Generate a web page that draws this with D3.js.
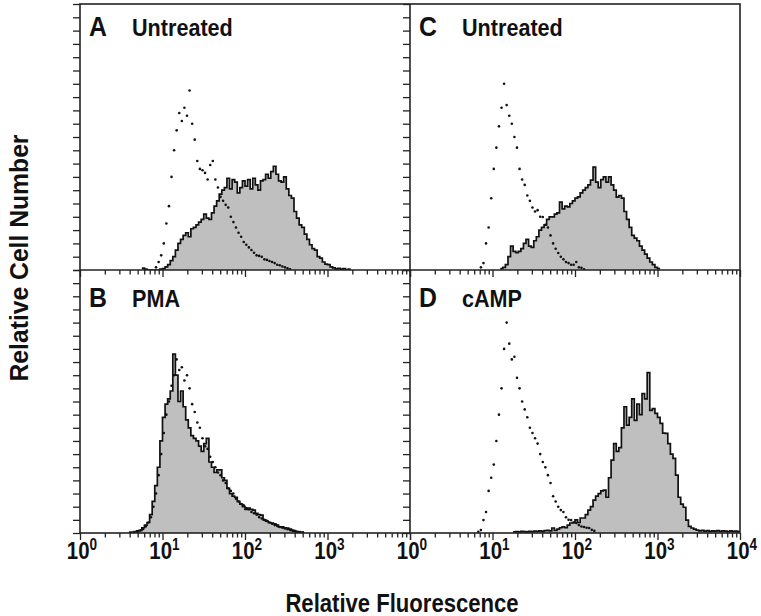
<!DOCTYPE html>
<html><head><meta charset="utf-8">
<script src="https://cdn.jsdelivr.net/npm/d3@7"></script>
<style>
html,body{margin:0;padding:0;background:#fff;}
text{font-family:"Liberation Sans",Arial,Helvetica,sans-serif;font-weight:bold;fill:#111;}
</style></head>
<body><svg id="chart" width="761" height="616"></svg>
<script>
// ---------- data ----------
const binsPerDecade = 32;               // channels per decade of fluorescence
const panelLetters = ["A", "B", "C", "D"];
const panelTitles = ["Untreated", "PMA", "Untreated", "cAMP"];
const tickExponents = [0, 1, 2, 3, 4];
const axisTitleX = "Relative Fluorescence";
const axisTitleY = "Relative Cell Number";

// Panel A – Untreated (stained = filled, control = dotted); values in % of full scale
const stainedAStart = 24;
const stainedA = [0.7,0.3,0,0,0,0,0,0.3,0.5,1.2,2,3.5,5,7.5,10,11.5,13,14,12.5,15.5,16,17,18,19,21,19.5,19,21.5,24,26,28.5,30,31,34.5,30.5,34,33,29,31,33.5,31.5,34,30.5,34.5,32,30,33.5,34,36,34.5,37,39,36,33.5,33,35,30.5,28,27,22,19.5,17,16,13.5,11.5,9.5,8,7.5,5,4.5,3,2.2,2,1.2,0.8,0.4,0.6,0.3,0.5,0,0.3];
const controlAStart = 29;
const controlA = [1,3,5.5,10,17.5,24,35,45,52.5,59,56,61,58,67.5,55,49,41,38,37.5,36.5,34,39.5,41,34,31,27.5,26,24.5,23.5,20,18,16,14,12.5,10.5,9.5,8.5,7.5,6.5,5.5,5.3,5,4,3.8,3.4,3,2.6,2,1.8,1.3,1,0.6,0.3];

// Panel B – PMA
const stainedBStart = 19;
const stainedB = [0.3,0.3,0.5,0.8,1,2,3,4,7,12,18,25,35,44,49,51,54,68,60,50,54,48,43,40,37,36,35,33,31,34,36,27,25,23,24,24,21,20,17,15,14,13.6,12,11,10,9,9.5,9,8.7,7.5,7,6.8,5,4.5,4,3.8,3.5,3,2.3,2.3,2,1.9,1.5,1,0.6,0.4,0.3];
const controlBStart = 22;
const controlB = [0.5,1,1.5,2.5,4,6,10,15,22,30,38,45,50,56,60,66,62,63,58,60,55,49,46,42,40,36,33,32,29,27,25,23,22,20,19,17,16,15,13,12,11,10.5,9.5,9,8,7.5,7,6,5.5,5,4.6,4,3.5,3,2.7,2.3,2,1.7,1.4,1.1,0.9,0.7,0.5,0.4,0.3];

// Panel C – Untreated
const stainedCStart = 35;
const stainedC = [0.5,1,2,5,9,7,6.5,7,8,10,11.5,9,8.5,11,12.5,15,16,17,19,20,20,21,21.5,25.5,23,24,23.7,25,26,27,27.5,29,30,31,32,33.8,38.7,33,31,34,35,33,35,32,30,27.4,28,27,22,19,16,13,12,11,9,7.5,6,4.5,3,2,1,0.5];
const controlCStart = 27;
const controlC = [1,2.6,10,16,27,38,46,54,61,70,62,58,55,50,46,38,34,32,28,26,23.5,22,22.5,20,19.9,17,16,13,10,8,6.4,5,4,3,2.6,2,2,3,1,0.8,0.3];

// Panel D – cAMP
const stainedDStart = 40;
const stainedD = [0.4,0.5,0.4,0.6,0.5,0.4,0.6,0.5,0.7,0.6,0.8,0.6,0.9,1,0.8,1.9,1,1.5,2,2.3,2,3,3.8,4,5,4,5.7,5.7,7,8.7,10,12.5,14,15,16,16.3,13.6,21,27.7,34,31,32.5,40,48,41,44,51,42.8,49,45,53,51,61,46.6,47.3,45.5,44,41.7,38,37.9,34,30,28.4,22,13.6,11,9.8,4.9,2.5,1.9,1.5,1.1,0.8,1,0.7,0.9,0.6,0.8,0.7,0.9,0.6,0.8,0.7,0.5,0.8,0.6,0.7,0.5];
const controlDStart = 26;
const controlD = [0.5,1.1,4.9,8,16,21,26,35,45,55,70,80,72,66,67,59,55,50,47,44,40,38,36,34,30,27,25,22,19,14,12,10,8.7,8,6,5,4.9,4,3.8,3,2.5,2.3,2,1.9,1.2,0.8];

// ---------- layout ----------
const colX = [[80, 410], [410, 740]];
const rowY = [[4, 270], [270, 533]];
const panelCol = [0, 0, 1, 1];
const panelRow = [0, 1, 0, 1];
const labelBaseline = [36, 307];
const stainedSets = [[stainedAStart, stainedA], [stainedBStart, stainedB], [stainedCStart, stainedC], [stainedDStart, stainedD]];
const controlSets = [[controlAStart, controlA], [controlBStart, controlB], [controlCStart, controlC], [controlDStart, controlD]];

const svg = d3.select("#chart");
svg.append("rect").attr("width", 761).attr("height", 616).attr("fill", "#fff");

// condensed bold text helper (horizontal squeeze like Helvetica condensed)
function label(x, y, size, sx, anchor, rot) {
  return svg.append("text")
    .attr("transform", `translate(${x},${y})` + (rot ? ` rotate(${rot})` : "") + ` scale(${sx},1)`)
    .attr("text-anchor", anchor || "start").style("font-size", size + "px");
}

const minorVals = [];
for (let d = 0; d < 4; d++) for (let m = 2; m <= 9; m++) minorVals.push(m * Math.pow(10, d));
const majorVals = tickExponents.map(e => Math.pow(10, e));

panelLetters.forEach((letter, i) => {
  const [x0, x1] = colX[panelCol[i]];
  const [y0, y1] = rowY[panelRow[i]];
  const x = d3.scaleLog().domain([1, 10000]).range([x0, x1]);
  const y = d3.scaleLinear().domain([0, 100]).range([y1, y0]);
  const xc = c => x(Math.pow(10, c / binsPerDecade));
  const g = svg.append("g");
  const clipId = "clip" + i;
  g.append("clipPath").attr("id", clipId).append("rect")
    .attr("x", x0).attr("y", y0).attr("width", x1 - x0).attr("height", y1 - y0);
  const plot = g.append("g").attr("clip-path", `url(#${clipId})`);

  // stained histogram (filled, stepped)
  const [sStart, sVals] = stainedSets[i];
  const pts = sVals.map((v, k) => ({c: sStart + k, v}));
  pts.push({c: sStart + sVals.length, v: sVals[sVals.length - 1]});
  const area = d3.area().curve(d3.curveStepAfter)
    .x(d => xc(d.c)).y0(y(0)).y1(d => y(d.v));
  const line = d3.line().curve(d3.curveStepAfter)
    .x(d => xc(d.c)).y(d => y(d.v));
  plot.append("path").attr("d", area(pts)).attr("fill", "#bfbfbf");
  plot.append("path").attr("d", line(pts)).attr("fill", "none")
    .attr("stroke", "#111").attr("stroke-width", 1.7);

  // control histogram (dots)
  const [cStart, cVals] = controlSets[i];
  plot.selectAll("circle.ctl").data(cVals.map((v, k) => ({c: cStart + k + 0.5, v})))
    .enter().append("circle").attr("class", "ctl")
    .attr("cx", d => xc(d.c)).attr("cy", d => y(d.v)).attr("r", 1.3).attr("fill", "#111");

  // y ticks (pointing outward to the left)
  const yAxis = d3.axisLeft(y).tickValues(d3.range(0, 101, 5)).tickSize(7).tickFormat("");
  g.append("g").attr("transform", `translate(${x0},0)`).call(yAxis)
    .call(s => s.select(".domain").remove())
    .call(s => s.selectAll("line").attr("stroke", "#222").attr("stroke-width", 1.3));

  // x ticks (pointing down)
  const xMinor = d3.axisBottom(x).tickValues(minorVals).tickSize(4.5).tickFormat("");
  const xMajor = d3.axisBottom(x).tickValues(majorVals).tickSize(7).tickFormat("");
  [xMinor, xMajor].forEach(ax => {
    g.append("g").attr("transform", `translate(0,${y1})`).call(ax)
      .call(s => s.select(".domain").remove())
      .call(s => s.selectAll("line").attr("stroke", "#222").attr("stroke-width", 1.3));
  });

  // tick labels on bottom row
  if (panelRow[i] === 1) {
    const exps = panelCol[i] === 0 ? tickExponents.slice(0, 4) : tickExponents;
    exps.forEach(e => {
      const t = label(x(Math.pow(10, e)) + 2, 559, 24, 0.85, "middle");
      t.append("tspan").text("10");
      t.append("tspan").attr("dy", -9).style("font-size", "16px").text(String(e));
    });
  }

  // panel labels
  label(x0 + 9, labelBaseline[panelRow[i]], 27, 0.92).text(letter);
  label(x0 + 52, labelBaseline[panelRow[i]], 24, 0.9).text(panelTitles[i]);
});

// frame
const fr = svg.append("g").attr("fill", "none").attr("stroke", "#222").attr("stroke-width", 1.6);
fr.append("rect").attr("x", 80).attr("y", 4).attr("width", 660).attr("height", 529);
fr.append("line").attr("x1", 410).attr("x2", 410).attr("y1", 4).attr("y2", 533);
fr.append("line").attr("x1", 80).attr("x2", 740).attr("y1", 270).attr("y2", 270);

// axis titles
label(402, 612, 26, 0.85, "middle").text(axisTitleX);
label(28, 258, 26, 0.95, "middle", -90).text(axisTitleY);
</script></body></html>
